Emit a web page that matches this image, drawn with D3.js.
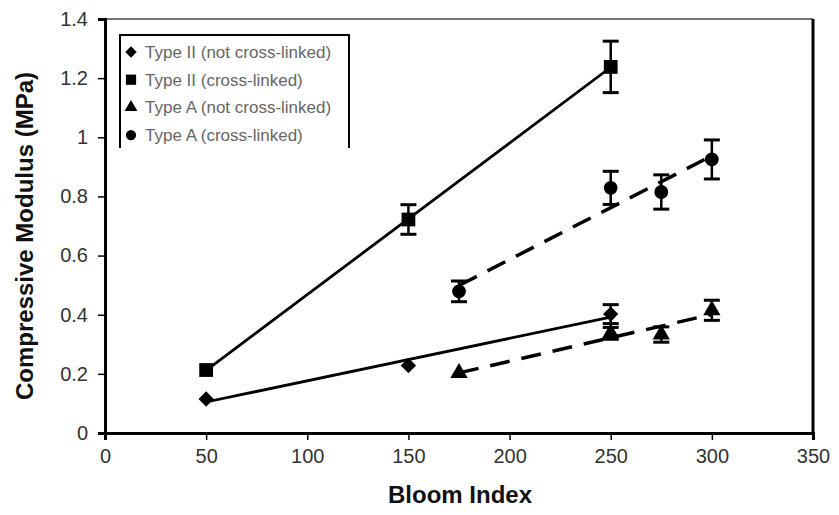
<!DOCTYPE html>
<html><head><meta charset="utf-8">
<script src="https://cdn.jsdelivr.net/npm/d3@7"></script>
<style>body{margin:0;background:#fff}svg{display:block}</style>
</head><body>
<svg id="c" width="839" height="515"></svg>
<script>
// ---- data ----
const seriesNames = ["Type II (not cross-linked)", "Type II (cross-linked)", "Type A (not cross-linked)", "Type A (cross-linked)"];
const typeIINotX = [50, 150, 250];
const typeIINotY = [0.115, 0.228, 0.402];
const typeIINotErr = [0, 0, 0.032];
const typeIIXlX = [50, 150, 250];
const typeIIXlY = [0.213, 0.722, 1.238];
const typeIIXlErr = [0, 0.05, 0.087];
const typeANotX = [175, 250, 275, 300];
const typeANotY = [0.203, 0.337, 0.333, 0.415];
const typeANotErr = [0, 0.02, 0.026, 0.034];
const typeAXlX = [175, 250, 275, 300];
const typeAXlY = [0.479, 0.829, 0.815, 0.925];
const typeAXlErr = [0.035, 0.056, 0.058, 0.066];
const xTicks = [0, 50, 100, 150, 200, 250, 300, 350];
const yTicks = [0, 0.2, 0.4, 0.6, 0.8, 1, 1.2, 1.4];

const svg = d3.select("#c");
const L = 105, R = 813, T = 19, B = 433;
const x = d3.scaleLinear().domain([0, 350]).range([L, R]);
const y = d3.scaleLinear().domain([0, 1.4]).range([B, T]);

const diamondType = d3.symbolDiamond2 || d3.symbolDiamond;
const series = [
  {name: seriesNames[0], xs: typeIINotX, ys: typeIINotY, err: typeIINotErr, sym: diamondType, size: 150, dash: null},
  {name: seriesNames[1], xs: typeIIXlX, ys: typeIIXlY, err: typeIIXlErr, sym: d3.symbolSquare, size: 190, dash: null},
  {name: seriesNames[2], xs: typeANotX, ys: typeANotY, err: typeANotErr, sym: d3.symbolTriangle, size: 130, dash: "20,12"},
  {name: seriesNames[3], xs: typeAXlX, ys: typeAXlY, err: typeAXlErr, sym: d3.symbolCircle, size: 150, dash: "20,12"}
];

// frame
svg.append("line").attr("x1", L).attr("x2", R).attr("y1", T).attr("y2", T).attr("stroke", "#777").attr("stroke-width", 2);
svg.append("line").attr("x1", R).attr("x2", R).attr("y1", T).attr("y2", B).attr("stroke", "#000").attr("stroke-width", 3);

// axes
const xAxis = d3.axisBottom(x).tickValues(xTicks).tickSize(7).tickPadding(9).tickFormat(d3.format("d"));
const gx = svg.append("g").attr("transform", `translate(0,${B})`).call(xAxis);
const yAxis = d3.axisLeft(y).tickValues(yTicks).tickSize(7).tickPadding(10).tickFormat(d => d3.format("")(+d.toFixed(1)));
const gy = svg.append("g").attr("transform", `translate(${L},0)`).call(yAxis);
[gx, gy].forEach(g => {
  g.select(".domain").attr("stroke", "#000").attr("stroke-width", 3);
  g.selectAll(".tick line").attr("stroke", "#000").attr("stroke-width", 1.5);
  g.selectAll(".tick text").attr("font-family", "Liberation Sans, Arial, sans-serif").attr("font-size", 20).attr("fill", "#333");
});

// axis titles
svg.append("text").attr("x", (L + R) / 2 + 1).attr("y", 503).attr("text-anchor", "middle")
  .attr("font-family", "Liberation Sans, Arial, sans-serif").attr("font-weight", "bold").attr("font-size", 24).attr("fill", "#111")
  .text("Bloom Index");
svg.append("text").attr("transform", `translate(33,${(T + B) / 2 + 10}) rotate(-90)`).attr("text-anchor", "middle")
  .attr("font-family", "Liberation Sans, Arial, sans-serif").attr("font-weight", "bold").attr("font-size", 24).attr("fill", "#111")
  .text("Compressive Modulus (MPa)");

// trend lines (least squares fit of each series)
function fit(xs, ys) {
  const mx = d3.mean(xs), my = d3.mean(ys);
  const sxy = d3.sum(xs, (v, i) => (v - mx) * (ys[i] - my));
  const sxx = d3.sum(xs, v => (v - mx) * (v - mx));
  const b = sxy / sxx, a = my - b * mx;
  return v => a + b * v;
}
series.forEach(s => {
  const f = fit(s.xs, s.ys);
  const x0 = d3.min(s.xs), x1 = d3.max(s.xs);
  svg.append("line").attr("x1", x(x0)).attr("y1", y(f(x0))).attr("x2", x(x1)).attr("y2", y(f(x1)))
    .attr("stroke", "#000").attr("stroke-width", s.dash ? 3.5 : 2.8)
    .attr("stroke-dasharray", s.dash);
});

// error bars and markers
series.forEach(s => {
  const g = svg.append("g");
  s.xs.forEach((xv, i) => {
    const e = s.err[i];
    if (e > 0) {
      const cx = x(xv);
      g.append("line").attr("x1", cx).attr("x2", cx).attr("y1", y(s.ys[i] + e)).attr("y2", y(s.ys[i] - e)).attr("stroke", "#000").attr("stroke-width", 2.5);
      [s.ys[i] + e, s.ys[i] - e].forEach(v => {
        g.append("line").attr("x1", cx - 8).attr("x2", cx + 8).attr("y1", y(v)).attr("y2", y(v)).attr("stroke", "#000").attr("stroke-width", 3);
      });
    }
    g.append("path").attr("d", d3.symbol().type(s.sym).size(s.size)())
      .attr("transform", `translate(${x(xv)},${y(s.ys[i])})`).attr("fill", "#000");
  });
});

// legend
const lg = svg.append("g");
lg.append("path").attr("d", "M120,148 L120,35 L349,35 L349,148").attr("fill", "none").attr("stroke", "#000").attr("stroke-width", 2);
series.forEach((s, i) => {
  const yy = 52 + i * 27.7;
  lg.append("path").attr("d", d3.symbol().type(s.sym).size(s.size * 0.55)())
    .attr("transform", `translate(131,${yy})`).attr("fill", "#000");
  lg.append("text").attr("x", 145).attr("y", yy + 6)
    .attr("font-family", "Liberation Sans, Arial, sans-serif").attr("font-size", 17).attr("fill", "#666")
    .text(s.name);
});
</script>
</body></html>
